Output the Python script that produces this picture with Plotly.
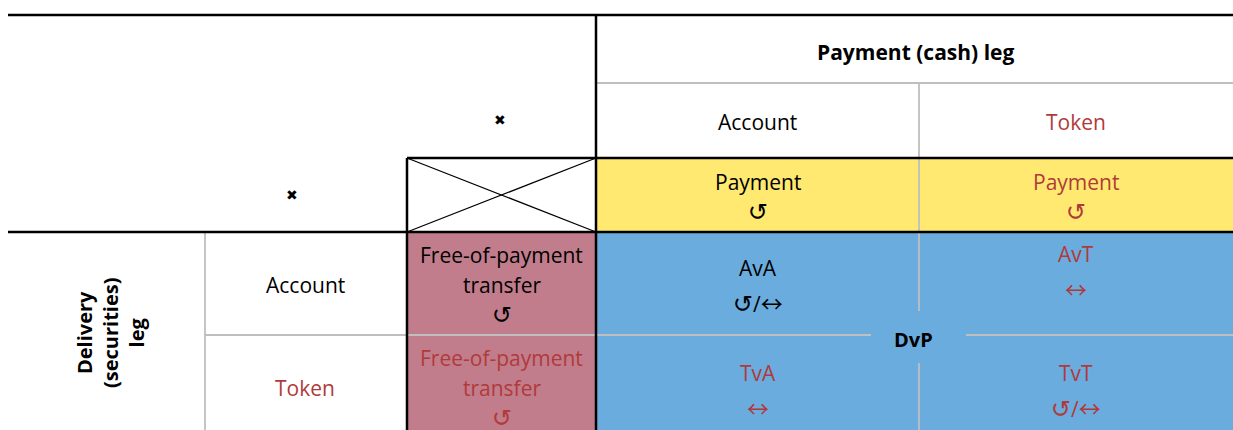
import plotly.graph_objects as go

# ---- content (text data) ----
title_cash = "Payment (cash) leg"
title_delivery = "Delivery<br>(securities)<br>leg"
col_headers = ["Account", "Token"]
row_headers = ["Account", "Token"]
payment_cells = [["Payment", "↺"], ["Payment", "↺"]]
fop_cells = [["Free-of-payment", "transfer", "↺"], ["Free-of-payment", "transfer", "↺"]]
dvp_cells = [[["AvA", "↺/↔"], ["AvT", "↔"]],
             [["TvA", "↔"], ["TvT", "↺/↔"]]]
dvp_label = "DvP"
none_mark = "✖"

# ---- styling ----
W, H = 1233, 430
BLACK = "#000000"
RED = "#B03A3A"
GRAY = "#BFBFBF"
YELLOW = "#FFE970"
BLUE = "#6AACDE"
PINK = "#C27D8C"
FONT = "Open Sans"
FS = 21
SYM_STYLE = {
    "↺": "font-family:DejaVu Sans;font-size:24px",
    "↔": "font-family:Noto Sans CJK JP, DejaVu Sans;font-size:22px",
    "/": "font-family:Open Sans;font-size:21px",
}

# grid geometry (window pixels)
x_left, x_sub, x_fop, x_cash, x_mid, x_right = 8, 205, 407, 596, 919, W
y_top, y_cashhdr, y_pay, y_del, y_row, y_bot = 15, 83, 158, 232, 335, H
col_centers = [(x_cash + x_mid) / 2, (x_mid + x_right) / 2]
col_colors = [BLACK, RED]

shapes = []
annots = []

def rect(x0, y0, x1, y1, color):
    shapes.append(dict(type="rect", x0=x0, y0=y0, x1=x1, y1=y1, fillcolor=color,
                       line=dict(width=0), layer="below"))

def line(x0, y0, x1, y1, color=BLACK, width=2.5):
    shapes.append(dict(type="line", x0=x0, y0=y0, x1=x1, y1=y1,
                       line=dict(color=color, width=width)))

def text(x, y, s, color=BLACK, size=FS, bold=False, angle=0, family=FONT):
    if bold:
        s = "<b>" + s + "</b>"
    annots.append(dict(x=x, y=y, text=s, showarrow=False, xanchor="center", yanchor="middle",
                       textangle=angle, font=dict(family=family, size=size, color=color)))

def cell_text(x, y, s, color):
    if all(ch in SYM_STYLE for ch in s):
        s = "".join('<span style="%s">%s</span>' % (SYM_STYLE[ch], ch) for ch in s)
    text(x, y, s, color)

# fills
rect(x_cash, y_pay, x_right + 5, y_del, YELLOW)
rect(x_cash, y_del, x_right + 5, y_bot + 5, BLUE)
rect(x_fop, y_del, x_cash, y_bot + 5, PINK)

# gray lines
gw = 1.8
line(x_cash, y_cashhdr, x_right + 5, y_cashhdr, GRAY, gw)
line(x_mid, y_cashhdr, x_mid, 311, GRAY, gw)
line(x_mid, 363, x_mid, y_bot + 5, GRAY, gw)
line(x_sub, y_del, x_sub, y_bot + 5, GRAY, gw)
line(x_sub, y_row, 871, y_row, GRAY, gw)
line(966, y_row, x_right + 5, y_row, GRAY, gw)

# black lines
line(x_left, y_top, x_right + 5, y_top)
line(x_cash, y_top, x_cash, y_bot + 5)
line(x_fop, y_pay, x_right + 5, y_pay)
line(x_fop, y_pay, x_fop, y_bot + 5)
line(x_left, y_del, x_right + 5, y_del)
line(x_fop, y_pay, x_cash, y_del, width=1.3)
line(x_fop, y_del, x_cash, y_pay, width=1.3)

# headers
text((x_cash + x_right) / 2 + 1, 52, title_cash, bold=True, size=21)
for i, h in enumerate(col_headers):
    text(col_centers[i], 122, h, col_colors[i])
text(500, 120, none_mark, size=14, family="DejaVu Sans")
text(292, 195, none_mark, size=14, family="DejaVu Sans")
text(110, 333, title_delivery, bold=True, size=20, angle=-90)

row_centers_y = [285, 388]
for i, h in enumerate(row_headers):
    text(305, row_centers_y[i], h, col_colors[i])

# payment cells
for i, cell in enumerate(payment_cells):
    for k, s in enumerate(cell):
        cell_text(col_centers[i], 182 + 30 * k, s, col_colors[i])

# free-of-payment cells
fop_top = [255, 358]
for i, cell in enumerate(fop_cells):
    for k, s in enumerate(cell):
        cell_text((x_fop + x_cash) / 2, fop_top[i] + 30 * k, s, col_colors[i])

# DvP cells
dvp_top = [[268, 254], [373, 373]]
for r in range(2):
    for c in range(2):
        color = BLACK if (r == 0 and c == 0) else RED
        for k, s in enumerate(dvp_cells[r][c]):
            cell_text(col_centers[c], dvp_top[r][c] + 34 * k, s, color)
text(913, 339, dvp_label, bold=True, size=20)

fig = go.Figure()
fig.update_layout(
    width=W, height=H, margin=dict(l=0, r=0, t=0, b=0, pad=0),
    paper_bgcolor="white", plot_bgcolor="white",
    xaxis=dict(range=[0, W], visible=False, fixedrange=True),
    yaxis=dict(range=[H, 0], visible=False, fixedrange=True),
    shapes=shapes, annotations=annots, showlegend=False,
)
fig.write_html(
    "out.html",
    config={"displayModeBar": False},
    post_script="document.body.style.margin='0';document.body.style.overflow='hidden';",
)
